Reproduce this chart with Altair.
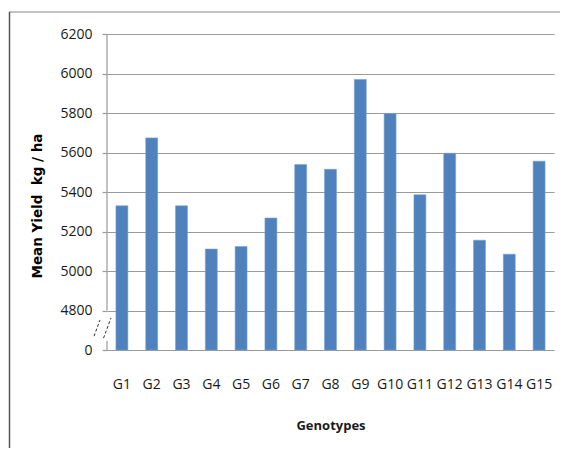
import altair as alt
import pandas as pd

genotypes = ["G1", "G2", "G3", "G4", "G5", "G6", "G7", "G8", "G9", "G10",
             "G11", "G12", "G13", "G14", "G15"]
mean_yield = [5330, 5674, 5330, 5111, 5124, 5268, 5539, 5515, 5970, 5798,
              5386, 5596, 5156, 5085, 5556]
y_ticks = [4600, 4800, 5000, 5200, 5400, 5600, 5800, 6000, 6200]
axis_base = 4600          # shown as "0" (broken axis)
y_title = "Mean Yield\u00a0\u00a0kg / ha"
x_title = "Genotypes"

df = pd.DataFrame({"genotype": genotypes, "yield": mean_yield})
one = pd.DataFrame({"t": [y_title]})

GRID = "#9a9a9a"
FONT = "Open Sans"

yscale = alt.Scale(domain=[axis_base, 6200], nice=False, zero=False)
yaxis = alt.Axis(values=y_ticks, format="d", title=None, labelOverlap=False,
                 labelExpr="datum.value == 4600 ? '0' : datum.label",
                 domain=False, grid=True, gridColor=GRID, gridWidth=1.2,
                 tickColor=GRID, tickSize=5, tickWidth=1.2, labelPadding=10,
                 labelFont=FONT, labelFontSize=14, labelColor="#1a1a1a")

bars = alt.Chart(df).mark_bar(color="#4F81BD", stroke="#7aa0d0", strokeWidth=0.6).encode(
    x=alt.X("genotype:N", sort=genotypes,
            scale=alt.Scale(paddingInner=0.6, paddingOuter=0.3),
            axis=alt.Axis(title=x_title, labelAngle=0, ticks=False, domainColor=GRID,
                          domainWidth=1.2, labelPadding=27, labelFont=FONT,
                          labelFontSize=14, labelColor="#1a1a1a",
                          titleFont=FONT, titleFontSize=13, titleFontWeight="bold",
                          titleColor="#1a1a1a", titlePadding=28)),
    y=alt.Y("yield:Q", scale=yscale, axis=yaxis),
    y2=alt.Y2(datum=axis_base),
)

# broken y-axis line
axis_upper = alt.Chart(one).mark_rule(color=GRID, strokeWidth=1.2).encode(
    x=alt.value(0), y=alt.Y(datum=4800, axis=yaxis), y2=alt.Y2(datum=6200))
axis_lower = alt.Chart(one).mark_rule(color=GRID, strokeWidth=1.2).encode(
    x=alt.value(0), y=alt.Y(datum=4600, axis=yaxis), y2=alt.Y2(datum=4645))
slash1 = alt.Chart(one).mark_rule(color="#333", strokeWidth=1, strokeDash=[3, 2]).encode(
    x=alt.value(-13), x2=alt.value(-7), y=alt.Y(datum=4670, axis=yaxis),
    y2=alt.Y2(datum=4752))
slash2 = alt.Chart(one).mark_rule(color="#333", strokeWidth=1, strokeDash=[3, 2]).encode(
    x=alt.value(-3.5), x2=alt.value(4), y=alt.Y(datum=4660, axis=yaxis),
    y2=alt.Y2(datum=4762))

ytitle = alt.Chart(one).mark_text(angle=270, font="DejaVu Sans", fontWeight="bold",
                                  fontSize=13.5, color="#000").encode(
    text="t:N", x=alt.value(-69), y=alt.value(172))

# outer frame
frame_top = alt.Chart(one).mark_rule(color="#8a8a8a", strokeWidth=1.2).encode(
    x=alt.value(-98), x2=alt.value(460), y=alt.value(-22))
frame_left = alt.Chart(one).mark_rule(color="#555", strokeWidth=1.5).encode(
    x=alt.value(-97.5), y=alt.value(-22), y2=alt.value(420))

chart = alt.layer(bars, axis_upper, axis_lower, slash1, slash2, ytitle,
                  frame_top, frame_left).properties(
    width=447, height=316,
    autosize=alt.AutoSizeParams(type="none"),
    padding={"left": 99, "top": 26, "right": 6, "bottom": 98},
).configure_view(stroke=None)

chart.save("out.html", embed_options={"renderer": "svg", "actions": False})
